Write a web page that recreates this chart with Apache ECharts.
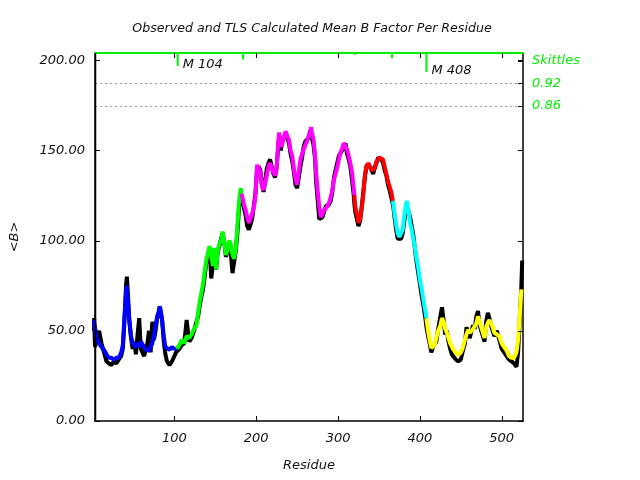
<!DOCTYPE html>
<html><head><meta charset="utf-8">
<script src="https://cdn.jsdelivr.net/npm/echarts@6/dist/echarts.min.js"></script>
<style>html,body{margin:0;padding:0;background:#fff}#c{width:640px;height:480px}</style>
</head><body><div id="c"></div>
<script>
const chartTitle = 'Observed and TLS Calculated Mean B Factor Per Residue';
const xName = 'Residue';
const yName = '<B>';
const xMin = 3, xMax = 526;
const yMin = 0, yMax = 204;
const xTicks = [100, 200, 300, 400, 500];
const yTicks = [0, 50, 100, 150, 200];
const skittlesAxisValues = [0.979, 0.92, 0.86];
const skittlesAxisLabels = ['Skittles', '0.92', '0.86'];
const skittlesLines = [0.92, 0.86];
const skittlesResidues = [104, 184, 321, 366, 408];
const skittlesValues = [0.966, 0.983, 0.995, 0.986, 0.950];
const skittlesLabels = ['M 104', '', '', '', 'M 408'];
// TLS segments: [first residue, last residue, colour]
const segments = [[1,103,'#0000ff'],[103,182,'#00ff00'],[182,320,'#ff00ff'],[320,367,'#ff0000'],[367,408,'#00ffff'],[408,525,'#ffff00']];
// observed mean B per residue
const obsData = [[1,50],[2,57],[3,41],[5,45],[8,50],[11,43],[14,38],[17,33],[20,32],[23,31],[26,33],[29,32],[32,34],[35,36],[37,40],[39,55],[41,76],[42,80],[43,72],[45,55],[47,46],[49,40],[51,44],[53,37],[55,48],[57,57],[59,40],[61,38],[63,36],[65,37],[67,43],[69,50],[71,38],[73,55],[75,45],[77,50],[79,57],[81,60],[82,63],[83,62],[85,56],[87,44],[89,37],[91,33],[94,31],[97,33],[100,36],[102,38],[103,38],[106,40],[109,42],[112,43],[115,56],[118,44],[121,46],[124,50],[127,55],[129,58],[131,64],[133,69],[135,73],[137,80],[139,88],[141,91],[143,96],[145,79],[147,86],[149,95],[151,84],[153,94],[155,97],[157,101],[159,104],[161,99],[163,91],[165,94],[167,98],[169,93],[171,82],[173,88],[175,94],[177,104],[179,118],[181,126],[182,127],[183,123],[185,118],[187,114],[189,108],[191,106],[193,109],[195,112],[197,119],[199,126],[201,139],[203,141],[205,139],[207,131],[209,127],[211,128],[213,140],[215,143],[217,145],[219,141],[221,137],[223,135],[225,141],[227,153],[228,157],[230,150],[232,155],[234,157],[236,159],[238,157],[240,154],[242,148],[244,144],[246,138],[248,131],[250,129],[252,130],[254,141],[256,146],[258,152],[260,155],[262,156],[264,157],[266,161],[267,159],[268,158],[270,153],[272,145],[273,134],[275,123],[277,112],[279,111],[281,113],[283,116],[285,119],[287,118],[289,120],[291,122],[293,127],[295,135],[297,139],[299,143],[301,147],[303,148],[305,150],[307,152],[309,154],[311,148],[313,145],[315,141],[317,134],[319,126],[320,120],[321,116],[323,112],[325,108],[327,111],[329,119],[331,128],[333,136],[335,142],[337,142],[339,141],[341,139],[343,137],[345,141],[347,143],[349,146],[351,145],[353,145],[355,143],[357,139],[359,136],[361,131],[363,128],[365,124],[367,120],[368,117],[369,113],[371,106],[373,101],[375,100],[377,101],[379,104],[381,111],[383,117],[384,119],[386,118],[388,113],[390,108],[392,103],[394,95],[396,88],[398,82],[400,76],[402,70],[405,62],[407,56],[408,52],[410,47],[412,43],[414,38],[416,41],[418,40],[420,44],[422,50],[425,58],[427,63],[429,56],[431,48],[433,50],[435,44],[437,40],[439,37],[441,36],[444,34],[447,33],[450,34],[452,38],[455,43],[457,52],[459,48],[461,46],[463,50],[465,53],[467,51],[469,58],[471,61],[473,53],[475,50],[477,47],[479,44],[481,55],[483,60],[485,57],[487,53],[489,50],[491,47],[494,50],[497,45],[500,40],[503,38],[506,36],[509,34],[512,33],[515,32],[518,30],[520,38],[522,56],[524,75],[525,89]];
// TLS calculated mean B per residue
const tlsData = [[1,56],[3,52],[5,46],[8,43],[11,41],[14,39.5],[17,37],[20,35],[23,35],[26,34],[29,35],[32,35],[35,38],[37,42],[39,58],[41,72],[42,75],[43,68],[45,56],[47,47],[49,43],[51,42],[53,41],[55,43],[57,41],[59,44],[61,43],[63,41],[65,39.5],[67,40],[69,39],[71,40],[73,43],[75,47],[77,53],[79,58],[81,61],[82,63.5],[83,62],[85,56],[87,47],[89,41],[91,40],[94,39.5],[97,41],[100,40],[102,40],[103,40],[106,42],[109,45],[112,43],[115,47],[118,46],[121,48],[124,51],[127,53],[129,60],[131,66],[133,71],[135,76],[137,83],[139,89],[141,93],[143,97],[145,92],[147,86],[149,96],[151,84],[153,95],[155,98],[157,100],[159,105],[161,99],[163,92],[165,95],[167,100],[169,98],[171,92],[173,90],[175,95],[177,108],[179,122],[181,129],[182,126],[183,124],[185,120],[187,117],[189,113],[191,110],[193,112],[195,113],[197,118],[199,124],[201,142],[203,140],[205,138],[207,130],[209,128],[211,127],[213,136],[215,141],[217,143],[219,140],[221,138],[223,136],[225,140],[227,155],[228,160],[230,152],[232,154],[234,158],[236,160.5],[238,158],[240,156],[242,150],[244,147],[246,140],[248,134],[250,131],[252,132],[254,145],[256,148],[258,150.5],[260,153],[262,155],[264,158],[266,160],[267,163],[268,160],[270,156],[272,147],[273,139],[275,128],[277,119],[279,113],[281,114],[283,117],[285,118],[287,119],[289,121],[291,124],[293,128],[295,134],[297,137],[299,140.5],[301,145],[303,149],[305,151],[307,154],[309,153],[311,150.5],[313,147],[315,143],[317,138],[319,130],[320,125],[321,119],[323,115],[325,110],[327,112],[329,118],[331,126],[333,137],[335,141],[337,143],[339,142],[341,139],[343,138],[345,140],[347,144],[349,145],[351,146],[353,147],[355,145],[357,141],[359,137],[361,133],[363,130],[365,127],[367,122],[368,119],[369,115],[371,109],[373,104],[375,102],[377,103],[379,106],[381,114],[383,120],[384,122],[386,117],[388,110],[390,106],[392,101],[394,96],[396,90],[398,85],[400,78],[402,74],[405,65],[407,60],[408,57],[410,50],[412,45],[414,40.5],[416,41],[418,42],[420,46],[422,49.5],[425,53],[427,57],[429,55],[431,51],[433,49],[435,46],[437,43],[439,42],[441,39.5],[444,38],[447,36.7],[450,38],[452,40],[455,45],[457,48],[459,50.5],[461,49],[463,49.5],[465,51],[467,50.5],[469,54],[471,58],[473,55],[475,52],[477,49],[479,46],[481,52],[483,54.5],[485,56],[487,55],[489,52],[491,49],[494,48],[497,47],[500,43],[503,41],[506,39],[509,36],[512,35],[515,35],[518,38],[520,45],[522,58],[524,73]];

const FONT = 'DejaVu Sans';
const chart = echarts.init(document.getElementById('c'), null, {renderer: 'canvas'});
const series = [{
  type: 'line', xAxisIndex: 0, yAxisIndex: 0, data: obsData, showSymbol: false,
  lineStyle: {color: '#000', width: 4}, z: 2, silent: true
}];
segments.forEach(function (s) {
  series.push({
    type: 'line', xAxisIndex: 0, yAxisIndex: 0, showSymbol: false, silent: true, z: 3,
    data: tlsData.filter(function (d) { return d[0] >= s[0] && d[0] <= s[1]; }),
    lineStyle: {color: s[2], width: 4}
  });
});
function seg(x1, y1, x2, y2, w, c) {
  return {type: 'line', shape: {x1: x1, y1: y1, x2: x2, y2: y2}, style: {stroke: c || '#000', lineWidth: w || 1}};
}
// frame: left edge line at xMin, through the B scale
series.push({
  type: 'custom', xAxisIndex: 0, yAxisIndex: 0, z: 6, silent: true, clip: false,
  data: [[xMin, yMin]],
  renderItem: function (params, api) {
    const a = api.coord([xMin, yMin]), b = api.coord([xMin, yMax]);
    return seg(Math.round(a[0]) + 0.5, a[1], Math.round(b[0]) + 0.5, b[1], 1.5);
  }
});
// B ticks on left and right edges
series.push({
  type: 'custom', xAxisIndex: 0, yAxisIndex: 0, z: 6, silent: true, clip: false,
  data: yTicks.map(function (v) { return [xMin, v]; }),
  renderItem: function (params, api) {
    const l = api.coord([xMin, api.value(1)]), r = api.coord([xMax, api.value(1)]);
    const y = Math.round(l[1]) + 0.5;
    return {type: 'group', children: [seg(l[0], y, l[0] + 5, y), seg(r[0] - 5, y, r[0], y)]};
  }
});
// residue ticks on bottom and top edges
series.push({
  type: 'custom', xAxisIndex: 0, yAxisIndex: 0, z: 6, silent: true, clip: false,
  data: xTicks.map(function (v) { return [v, yMin]; }),
  renderItem: function (params, api) {
    const b = api.coord([api.value(0), yMin]), t = api.coord([api.value(0), yMax]);
    const x = Math.round(b[0]) + 0.5;
    return {type: 'group', children: [seg(x, b[1], x, b[1] - 5), seg(x, t[1], x, t[1] + 5)]};
  }
});
// skittles ticks on the right edge
series.push({
  type: 'custom', xAxisIndex: 0, yAxisIndex: 1, z: 6, silent: true, clip: false,
  data: skittlesAxisValues.map(function (v) { return [xMax, v]; }),
  renderItem: function (params, api) {
    const r = api.coord([xMax, api.value(1)]);
    const y = Math.round(r[1]) + 0.5;
    return seg(r[0] - 5, y, r[0], y);
  }
});
// skittles markers hanging from the top edge
series.push({
  type: 'custom', xAxisIndex: 0, yAxisIndex: 1, z: 4, silent: true,
  data: skittlesResidues.map(function (r, i) { return [r, skittlesValues[i]]; }),
  renderItem: function (params, api) {
    const r = api.value(0), v = api.value(1);
    const top = api.coord([r, 1]);
    const bot = api.coord([r, v]);
    const children = [{type: 'rect', shape: {x: top[0] - 1, y: top[1], width: 2, height: bot[1] - top[1]}, style: {fill: '#00ee00'}}];
    const lab = skittlesLabels[params.dataIndex];
    if (lab) {
      children.push({type: 'text', style: {text: lab, x: top[0] + 5, y: bot[1] - 1.5, verticalAlign: 'middle', align: 'left',
        font: 'italic 13px "' + FONT + '"', fill: '#111'}});
    }
    return {type: 'group', children: children};
  },
  markLine: {
    silent: true, symbol: 'none', animation: false,
    label: {show: false},
    lineStyle: {color: '#999', type: [2, 3], width: 1},
    data: skittlesLines.map(function (v) { return {yAxis: v}; })
  }
});

const labelStyle = {fontFamily: FONT, fontStyle: 'italic', fontSize: 13, color: '#111'};
chart.setOption({
  animation: false,
  backgroundColor: '#fff',
  title: {text: chartTitle, left: 307, top: 17, textAlign: 'center',
    textStyle: {fontFamily: FONT, fontStyle: 'italic', fontWeight: 'normal', fontSize: 12.6, color: '#111'}},
  grid: {left: 94, right: 117, top: 53, bottom: 59, containLabel: false},
  xAxis: [{
    type: 'value', position: 'bottom', min: xMin, max: xMax,
    name: xName, nameLocation: 'middle', nameGap: 38, nameTextStyle: labelStyle,
    axisLine: {show: true, onZero: false, lineStyle: {color: '#000', width: 1.5}},
    axisTick: {show: false},
    axisLabel: Object.assign({customValues: xTicks, margin: 11}, labelStyle),
    splitLine: {show: false}
  }, {
    type: 'value', position: 'top', min: xMin, max: xMax,
    axisLine: {show: true, onZero: false, lineStyle: {color: '#00ee00', width: 2}},
    axisTick: {show: false},
    axisLabel: {show: false}, splitLine: {show: false}
  }],
  yAxis: [{
    type: 'value', position: 'left', min: yMin, max: yMax,
    name: yName, nameLocation: 'middle', nameGap: 74, nameRotate: 90, nameTextStyle: labelStyle,
    axisLine: {show: true, onZero: false, lineStyle: {color: '#000', width: 1.5}},
    axisTick: {show: false},
    axisLabel: Object.assign({customValues: yTicks, margin: 10, formatter: function (v) { return v.toFixed(2); }}, labelStyle),
    splitLine: {show: false}
  }, {
    type: 'value', position: 'right', min: 0.03, max: 1,
    axisLine: {show: true, onZero: false, lineStyle: {color: '#000', width: 1.5}},
    axisTick: {show: false},
    axisLabel: Object.assign({}, labelStyle, {customValues: skittlesAxisValues, margin: 9, color: '#00ee00',
      formatter: function (v) { const i = skittlesAxisValues.indexOf(v); return i >= 0 ? skittlesAxisLabels[i] : ''; }}),
    splitLine: {show: false}
  }],
  series: series
});
</script>
</body></html>
